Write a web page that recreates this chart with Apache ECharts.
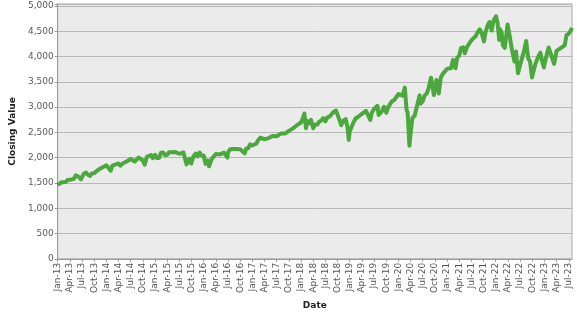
<!DOCTYPE html>
<html>
<head>
<meta charset="utf-8">
<script src="https://cdn.jsdelivr.net/npm/echarts@6/dist/echarts.min.js"></script>
<style>
html,body{margin:0;padding:0;background:#fff;}
#chart{width:577px;height:315px;}
</style>
</head>
<body>
<div id="chart"></div>
<script>
// Dates (YYYY-MM-DD) and closing values
var dates = [
 '2013-01-01','2013-01-15','2013-02-01','2013-02-15','2013-03-01','2013-03-15','2013-04-01','2013-04-15','2013-05-01','2013-05-15','2013-06-01','2013-06-24','2013-07-01','2013-07-15','2013-08-01','2013-08-15','2013-09-01','2013-09-15','2013-10-01','2013-10-08','2013-10-15','2013-11-01','2013-11-15','2013-12-01','2013-12-15',
 '2014-01-01','2014-01-15','2014-02-03','2014-02-15','2014-03-01','2014-03-15','2014-04-01','2014-04-15','2014-05-01','2014-05-15','2014-06-01','2014-06-15','2014-07-01','2014-07-15','2014-08-01','2014-08-15','2014-09-01','2014-09-15','2014-10-01','2014-10-15','2014-11-01','2014-11-15','2014-12-01','2014-12-15',
 '2015-01-01','2015-01-15','2015-02-01','2015-02-15','2015-03-01','2015-03-15','2015-04-01','2015-04-15','2015-05-01','2015-05-15','2015-06-01','2015-06-15','2015-07-01','2015-07-15','2015-08-01','2015-08-15','2015-08-25','2015-09-01','2015-09-15','2015-09-29','2015-10-15','2015-11-01','2015-11-15','2015-12-01','2015-12-15',
 '2016-01-01','2016-01-15','2016-02-01','2016-02-11','2016-03-01','2016-03-15','2016-04-01','2016-04-15','2016-05-01','2016-05-15','2016-06-01','2016-06-15','2016-06-27','2016-07-01','2016-07-15','2016-08-01','2016-08-15','2016-09-01','2016-09-15','2016-10-01','2016-10-15','2016-11-04','2016-11-15','2016-12-01','2016-12-15',
 '2017-01-01','2017-01-15','2017-02-01','2017-02-15','2017-03-01','2017-03-15','2017-04-01','2017-04-15','2017-05-01','2017-05-15','2017-06-01','2017-06-15','2017-07-01','2017-07-15','2017-08-01','2017-08-15','2017-09-01','2017-09-15','2017-10-01','2017-10-15','2017-11-01','2017-11-15','2017-12-01','2017-12-15',
 '2018-01-01','2018-01-15','2018-01-26','2018-02-08','2018-02-15','2018-03-01','2018-03-15','2018-04-01','2018-04-15','2018-05-01','2018-05-15','2018-06-01','2018-06-15','2018-07-01','2018-07-15','2018-08-01','2018-08-15','2018-09-01','2018-09-20','2018-10-01','2018-10-15','2018-10-29','2018-11-15','2018-12-01','2018-12-15','2018-12-24',
 '2019-01-01','2019-01-15','2019-02-01','2019-02-15','2019-03-01','2019-03-15','2019-04-01','2019-04-15','2019-05-01','2019-05-15','2019-06-03','2019-06-15','2019-07-01','2019-07-26','2019-08-05','2019-08-15','2019-09-01','2019-09-15','2019-10-02','2019-10-15','2019-11-01','2019-11-15','2019-12-01','2019-12-15',
 '2020-01-01','2020-01-15','2020-02-01','2020-02-19','2020-03-01','2020-03-10','2020-03-23','2020-04-01','2020-04-15','2020-05-01','2020-05-15','2020-06-08','2020-06-15','2020-07-01','2020-07-15','2020-08-01','2020-08-15','2020-09-02','2020-09-15','2020-09-23','2020-10-12','2020-10-30','2020-11-15','2020-12-01','2020-12-15',
 '2021-01-01','2021-01-15','2021-02-01','2021-02-15','2021-03-04','2021-03-15','2021-04-01','2021-04-15','2021-05-01','2021-05-12','2021-06-01','2021-06-15','2021-07-01','2021-07-15','2021-08-01','2021-08-15','2021-09-02','2021-09-15','2021-10-04','2021-10-15','2021-11-01','2021-11-15','2021-12-01','2021-12-15',
 '2022-01-03','2022-01-15','2022-01-27','2022-02-01','2022-02-15','2022-02-24','2022-03-08','2022-03-29','2022-04-15','2022-05-01','2022-05-20','2022-06-01','2022-06-16','2022-07-01','2022-07-15','2022-08-01','2022-08-16','2022-09-01','2022-09-15','2022-09-30','2022-10-12','2022-10-25','2022-11-15','2022-12-01','2022-12-15','2022-12-28',
 '2023-01-01','2023-01-15','2023-02-02','2023-02-15','2023-03-01','2023-03-13','2023-04-01','2023-04-15','2023-05-01','2023-05-15','2023-06-01','2023-06-15','2023-07-01','2023-07-15','2023-07-25'
];
var closes = [
 1462,1472,1513,1519,1518,1560,1562,1552,1582,1650,1631,1573,1614,1682,1706,1661,1640,1688,1695,1656,1698,1762,1798,1806,1775,
 1848,1848,1741,1838,1859,1841,1885,1842,1883,1870,1924,1937,1973,1973,1925,1955,2003,1984,1946,1862,2018,2039,2053,1990,
 2058,1992,1995,2096,2104,2053,2059,2106,2108,2122,2111,2084,2077,2107,2103,2091,1867,1914,1978,1884,2023,2079,2023,2102,2043,
 2044,1880,1940,1829,1978,2015,2072,2080,2065,2047,2100,2071,2001,2103,2161,2170,2190,2171,2147,2168,2133,2085,2180,2191,2262,
 2239,2274,2279,2349,2396,2385,2363,2329,2388,2402,2430,2432,2423,2459,2476,2465,2476,2500,2529,2553,2579,2565,2642,2675,
 2695,2786,2873,2581,2732,2678,2747,2582,2656,2655,2711,2734,2780,2718,2798,2813,2818,2902,2931,2924,2751,2641,2730,2760,2600,2351,
 2510,2610,2707,2775,2804,2822,2867,2905,2924,2850,2744,2887,2964,3025,2844,2847,2926,3007,2888,2995,3066,3120,3141,3168,
 3258,3289,3225,3386,2954,2882,2237,2470,2783,2830,2863,3232,3066,3115,3226,3271,3372,3580,3401,3237,3534,3270,3585,3662,3694,
 3756,3768,3773,3934,3768,3968,4019,4170,4181,4063,4202,4255,4320,4360,4395,4468,4537,4480,4300,4471,4613,4682,4513,4709,
 4796,4662,4326,4546,4471,4225,4170,4631,4392,4131,3901,4101,3667,3825,3863,4118,4305,3966,3901,3585,3577,3859,3992,4076,3895,3783,
 3839,3999,4179,4147,3951,3855,4109,4137,4167,4136,4221,4425,4450,4505,4567
];
var yTicks = [0,500,1000,1500,2000,2500,3000,3500,4000,4500,5000];
var monthNames = ['Jan','Feb','Mar','Apr','May','Jun','Jul','Aug','Sep','Oct','Nov','Dec'];

function monthIndex(d){
  var p = d.split('-');
  return (parseInt(p[0],10)-2013)*12 + (parseInt(p[1],10)-1) + (parseInt(p[2],10)-1)/30.5;
}
var seriesData = dates.map(function(d,i){ return [monthIndex(d), closes[i]]; });

var chart = echarts.init(document.getElementById('chart'), null, {renderer:'canvas'});
var font = 'DejaVu Sans';
chart.setOption({
  animation:false,
  backgroundColor:'#ffffff',
  grid:{left:51,right:5,top:4,bottom:49,show:true,backgroundColor:'#ebebeb',borderColor:'#a8a8a8',borderWidth:1},
  xAxis:{
    type:'value', min:0, max:126.8, interval:3,
    name:'Date', nameLocation:'middle', nameGap:36,
    nameTextStyle:{fontFamily:font,fontSize:9,fontWeight:'bold',color:'#222'},
    axisLine:{show:true,lineStyle:{color:'#9a9a9a',width:1}},
    axisTick:{show:true,length:3,lineStyle:{color:'#9a9a9a'}},
    splitLine:{show:false},
    axisLabel:{
      rotate:90, margin:4, fontFamily:font, fontSize:9, color:'#555',
      showMaxLabel:false,
      formatter:function(v){
        var m = Math.round(v);
        if (Math.abs(v-m)>1e-6 || m%3!==0) return '';
        var y = 13 + Math.floor(m/12);
        return monthNames[m%12] + '-' + y;
      }
    }
  },
  yAxis:{
    type:'value', min:0, max:5038, interval:500,
    name:'Closing Value', nameLocation:'middle', nameGap:36,
    nameTextStyle:{fontFamily:font,fontSize:9,fontWeight:'bold',color:'#222'},
    axisLine:{show:true,lineStyle:{color:'#9a9a9a',width:1}},
    axisTick:{show:true,length:3,lineStyle:{color:'#9a9a9a'}},
    splitLine:{show:true,lineStyle:{color:'#b8b8b8',width:1}},
    axisLabel:{
      margin:4, fontFamily:font, fontSize:9, color:'#5a5a5a',
      formatter:function(v){
        if (yTicks.indexOf(v)<0) return '';
        return v.toLocaleString('en-US');
      }
    }
  },
  series:[{
    type:'line', data:seriesData, showSymbol:false, symbol:'none',
    lineStyle:{color:'#4aa83c',width:4,join:'round'},
    clip:true
  }]
});
</script>
</body>
</html>
